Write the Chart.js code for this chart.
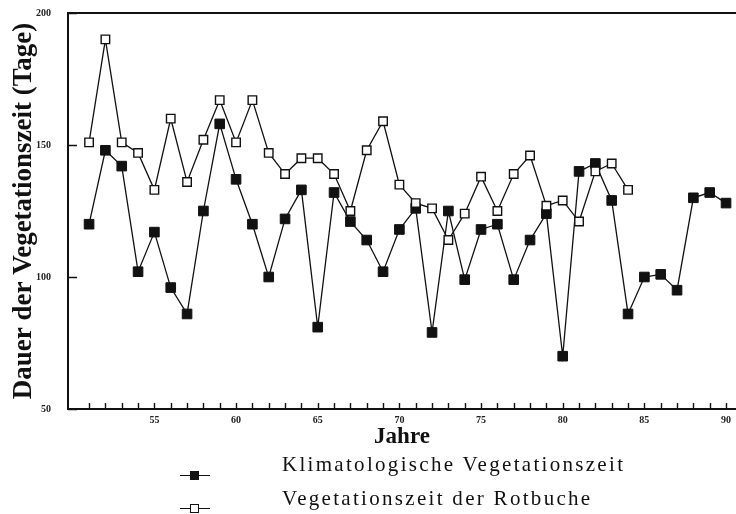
<!DOCTYPE html>
<html>
<head>
<meta charset="utf-8">
<script src="https://cdn.jsdelivr.net/npm/chart.js@4/dist/chart.umd.min.js"></script>
<style>
body { margin: 0; background: #fff; }
#wrap { position: relative; width: 736px; height: 514px; }
#grafik { position: absolute; left: 0; top: 0; }
.zeile { position: absolute; left: 0; font-family: "Liberation Serif", "DejaVu Serif", serif; font-size: 21px; letter-spacing: 2.3px; color: #111; white-space: nowrap; }
.zeile .linie { position: absolute; left: 180px; width: 30px; height: 0; border-top: 1.5px solid #111; }
.zeile .punkt { position: absolute; left: 190px; width: 7px; height: 7px; border: 1.5px solid #111; }
.zeile .text { position: absolute; left: 282px; }
</style>
</head>
<body>
<div id="wrap">
  <canvas id="grafik" width="736" height="514"></canvas>
  <div class="zeile" style="top:452px">
    <div class="linie" style="top:23px"></div>
    <div class="punkt" style="top:19px;background:#111"></div>
    <div class="text">Klimatologische Vegetationszeit</div>
  </div>
  <div class="zeile" style="top:486px">
    <div class="linie" style="top:22px"></div>
    <div class="punkt" style="top:18px;background:#fff"></div>
    <div class="text">Vegetationszeit der Rotbuche</div>
  </div>
</div>
<script>
// Jahre 1951 - 1990 (Achse zeigt nur die letzten zwei Ziffern)
const jahre = [51, 52, 53, 54, 55, 56, 57, 58, 59, 60,
               61, 62, 63, 64, 65, 66, 67, 68, 69, 70,
               71, 72, 73, 74, 75, 76, 77, 78, 79, 80,
               81, 82, 83, 84, 85, 86, 87, 88, 89, 90];

// Klimatologische Vegetationszeit (Tage)
const klima = [120, 148, 142, 102, 117, 96, 86, 125, 158, 137,
               120, 100, 122, 133, 81, 132, 121, 114, 102, 118,
               126, 79, 125, 99, 118, 120, 99, 114, 124, 70,
               140, 143, 129, 86, 100, 101, 95, 130, 132, 128];

// Vegetationszeit der Rotbuche (Tage), nur bis 1984
const rotbuche = [151, 190, 151, 147, 133, 160, 136, 152, 167, 151,
                  167, 147, 139, 145, 145, 139, 125, 148, 159, 135,
                  128, 126, 114, 124, 138, 125, 139, 146, 127, 129,
                  121, 140, 143, 133];

const xBeschriftung = [55, 60, 65, 70, 75, 80, 85, 90];
const yBeschriftung = [50, 100, 150, 200];

const schrift = '"Liberation Serif", "DejaVu Serif", serif';

// Ticks nach innen + obere Rahmenlinie
const rahmen = {
    id: 'rahmen',
    afterDraw(chart) {
        const ctx = chart.ctx;
        const a = chart.chartArea;
        const x = chart.scales.x;
        const y = chart.scales.y;
        ctx.save();
        ctx.strokeStyle = '#111';
        ctx.lineWidth = 1.4;
        ctx.beginPath();
        jahre.forEach(j => {
            const px = Math.round(x.getPixelForValue(j)) + 0.5;
            ctx.moveTo(px, a.bottom);
            ctx.lineTo(px, a.bottom - 6);
        });
        yBeschriftung.forEach(v => {
            const py = Math.round(y.getPixelForValue(v)) + 0.5;
            ctx.moveTo(a.left, py);
            ctx.lineTo(a.left + 9, py);
        });
        ctx.stroke();
        ctx.lineWidth = 2;
        ctx.beginPath();
        ctx.moveTo(a.left, a.top);
        ctx.lineTo(a.right, a.top);
        ctx.stroke();
        ctx.restore();
    }
};

const ctx = document.getElementById('grafik').getContext('2d');
new Chart(ctx, {
    type: 'line',
    data: {
        datasets: [{
            label: 'Vegetationszeit der Rotbuche',
            data: rotbuche.map((v, i) => ({ x: jahre[i], y: v })),
            borderColor: '#111',
            borderWidth: 1.3,
            backgroundColor: '#fff',
            pointStyle: 'rect',
            pointRadius: 6,
            pointBorderWidth: 1.4,
            pointBorderColor: '#111',
            pointBackgroundColor: '#fff',
            tension: 0,
            order: 1
        }, {
            label: 'Klimatologische Vegetationszeit',
            data: klima.map((v, i) => ({ x: jahre[i], y: v })),
            borderColor: '#111',
            borderWidth: 1.3,
            backgroundColor: '#111',
            pointStyle: 'rect',
            pointRadius: 6.8,
            pointBorderWidth: 1,
            pointBorderColor: '#111',
            pointBackgroundColor: '#111',
            tension: 0,
            order: 2
        }]
    },
    options: {
        responsive: false,
        animation: false,
        layout: { autoPadding: false, padding: { top: 13, right: 0, bottom: 60, left: 0 } },
        plugins: {
            legend: { display: false },
            tooltip: { enabled: false }
        },
        scales: {
            x: {
                type: 'linear',
                min: 49.71,
                max: 90.61,
                afterBuildTicks: s => { s.ticks = xBeschriftung.map(v => ({ value: v })); },
                afterFit: s => { s.height = 45; s.paddingLeft = 0; s.paddingRight = 0; },
                grid: { display: false, drawTicks: false },
                border: { display: true, color: '#111', width: 2 },
                ticks: {
                    padding: 5,
                    maxRotation: 0,
                    color: '#222',
                    font: { family: schrift, size: 10, weight: 'bold' }
                },
                title: {
                    display: true,
                    text: 'Jahre',
                    color: '#111',
                    padding: { top: 0, bottom: 3 },
                    font: { family: schrift, size: 23, weight: 'bold' }
                }
            },
            y: {
                min: 50,
                max: 200,
                afterBuildTicks: s => { s.ticks = yBeschriftung.map(v => ({ value: v })); },
                afterFit: s => { s.width = 68; s.paddingTop = 0; s.paddingBottom = 0; },
                grid: { display: false, drawTicks: false },
                border: { display: true, color: '#111', width: 2 },
                ticks: {
                    padding: 17,
                    color: '#222',
                    font: { family: schrift, size: 10, weight: 'bold' }
                },
                title: {
                    display: true,
                    text: 'Dauer der Vegetationszeit (Tage)',
                    color: '#111',
                    padding: { top: 8, bottom: 0 },
                    font: { family: schrift, size: 27, weight: 'bold' }
                }
            }
        }
    },
    plugins: [rahmen]
});
</script>
</body>
</html>
